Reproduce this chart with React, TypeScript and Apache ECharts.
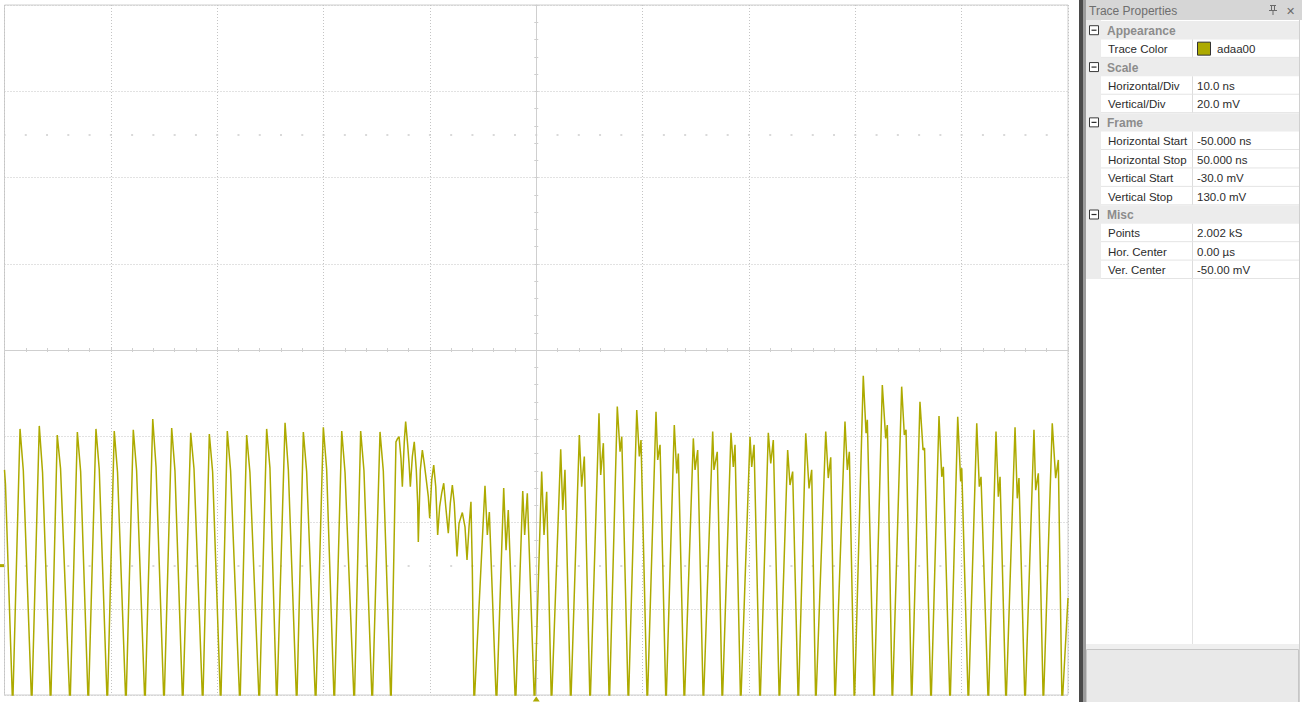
import React, { useEffect, useRef } from "react";
import * as echarts from "echarts";

// ---- Axis / frame settings (from Trace Properties) ----
const timeStartNs = -50;
const timeStopNs = 50;
const nsPerDiv = 10;
const voltStartMv = -30;
const voltStopMv = 130;
const mvPerDiv = 20;
const traceColor = "#adaa00";
// faint dotted reference rows seen in the display (mV)
const referenceLevelsMv = [0, 100];

// ---- Waveform samples [time ns, voltage mV] ----
// Regular oscillation: peak, shoulder on the falling edge, trough (clipped below the frame)
const segmentRegular: [number, number][] = [
  [-50.0, 22.2], [-49.91, 18.9], [-49.23, -33],
  [-48.54, 31.7], [-48.23, 22.0], [-47.44, -33],
  [-46.73, 32.4], [-46.42, 21.5], [-45.66, -33],
  [-45.04, 30.3], [-44.73, 22.5], [-43.84, -33],
  [-43.15, 31.0], [-42.84, 21.8], [-42.12, -33],
  [-41.4, 31.7], [-41.09, 22.3], [-40.33, -33],
  [-39.68, 31.2], [-39.37, 21.6], [-38.58, -33],
  [-37.89, 31.5], [-37.58, 22.1], [-36.79, -33],
  [-36.06, 34.0], [-35.75, 22.8], [-35.0, -33],
  [-34.28, 31.9], [-33.97, 21.9], [-33.24, -33],
  [-32.49, 30.8], [-32.18, 22.4], [-31.36, -33],
  [-30.74, 30.5], [-30.43, 21.7], [-29.67, -33],
  [-29.05, 31.2], [-28.74, 22.0], [-27.86, -33],
  [-27.23, 30.3], [-26.92, 21.5], [-26.04, -33],
  [-25.35, 31.7], [-25.04, 22.6], [-24.4, -33],
  [-23.62, 33.1], [-23.31, 22.2], [-22.52, -33],
  [-21.9, 31.0], [-21.59, 21.8], [-20.74, -33],
  [-20.02, 32.1], [-19.71, 22.4], [-18.99, -33],
  [-18.29, 31.2], [-17.98, 21.6], [-17.11, -33],
  [-16.51, 31.2], [-16.2, 22.0], [-15.42, -33],
  [-14.69, 31.0], [-14.38, 21.9], [-13.66, -33],
];

// Noisy transition where the signal stops reaching the bottom
const segmentTransition: [number, number][] = [
  [-13.19, 28.7], [-13.03, 29.5], [-12.9, 29.9], [-12.72, 24.9], [-12.59, 18.3],
  [-12.41, 28.7], [-12.28, 33.4], [-12.09, 28.0], [-11.96, 23.7], [-11.84, 18.3],
  [-11.65, 25.3], [-11.47, 28.7], [-11.28, 22.2], [-11.15, 14.5], [-11.09, 5.5],
  [-10.9, 22.2], [-10.71, 26.8], [-10.53, 23.7], [-10.34, 19.9], [-10.15, 16.0],
  [-10.02, 11.0], [-9.83, 19.9], [-9.64, 23.3], [-9.45, 18.3], [-9.27, 7.1],
  [-9.08, 13.7], [-8.89, 16.8], [-8.7, 19.1], [-8.51, 13.7], [-8.27, 7.5],
  [-8.08, 14.5], [-7.89, 18.7], [-7.71, 14.5], [-7.45, 2.1], [-7.26, 9.8],
  [-6.95, 12.3], [-6.7, 9.0], [-6.51, 1.3], [-6.32, 9.0], [-6.14, 14.8],
  [-6.01, -1.0], [-5.85, -33],
];

// Oscillation with double peaks (main peak, notch, bump, trough)
const segmentDoublePeak: [number, number][] = [
  [-4.82, 18.5], [-4.6, 7.1], [-4.41, 12.4], [-3.74, -33],
  [-3.06, 18.0], [-2.84, 3.6], [-2.63, 12.9], [-1.95, -33],
  [-1.27, 17.3], [-1.09, 7.1], [-0.84, 16.8], [-0.16, -33],
  [0.51, 21.8], [0.73, 7.1], [0.98, 17.1], [1.43, -33],
  [2.3, 27.0], [2.49, 12.9], [2.7, 22.2], [3.24, -33],
  [4.05, 30.3], [4.27, 18.3], [4.52, 25.3], [5.06, -33],
  [5.9, 35.3], [6.06, 21.0], [6.31, 28.4], [6.87, -33],
  [7.62, 36.9], [7.88, 26.4], [8.04, 29.9], [8.66, -33],
  [9.45, 36.1], [9.69, 25.3], [9.85, 29.1], [10.44, -33],
  [11.26, 35.7], [11.42, 24.5], [11.64, 28.0], [12.2, -33],
  [12.98, 32.6], [13.21, 21.4], [13.36, 26.0], [13.92, -33],
  [14.77, 29.5], [14.93, 22.2], [15.18, 26.8], [15.71, -33],
  [16.59, 31.1], [16.71, 22.2], [17.02, 26.4], [17.49, -33],
  [18.31, 30.8], [18.53, 22.9], [18.69, 28.0], [19.22, -33],
  [20.1, 29.9], [20.26, 22.9], [20.48, 28.0], [21.04, -33],
  [21.82, 30.8], [22.05, 23.7], [22.29, 29.1], [22.86, -33],
  [23.64, 26.8], [23.86, 18.7], [24.11, 21.8], [24.64, -33],
  [25.34, 30.7], [25.65, 17.9], [25.9, 22.2], [26.28, -33],
  [27.22, 31.1], [27.46, 20.3], [27.69, 25.1], [28.09, -33],
  [29.03, 33.4], [29.25, 22.2], [29.44, 26.4], [29.91, -33],
  [30.75, 44.0], [31.01, 30.7], [31.13, 33.8], [31.76, -33],
  [32.54, 41.9], [32.86, 29.5], [33.01, 32.6], [33.48, -33],
  [34.36, 41.5], [34.61, 30.3], [34.77, 31.5], [35.3, -33],
  [36.08, 38.0], [36.37, 26.8], [36.51, 27.3], [37.12, -33],
  [37.87, 34.7], [38.13, 20.6], [38.28, 22.9], [38.91, -33],
  [39.63, 34.5], [39.91, 19.5], [40.01, 22.6], [40.63, -33],
  [41.42, 33.0], [41.66, 18.3], [41.82, 20.6], [42.51, -33],
  [43.23, 31.1], [43.45, 16.0], [43.61, 20.6], [44.17, -33],
  [45.02, 32.1], [45.23, 15.6], [45.39, 20.3], [45.96, -33],
  [46.8, 31.5], [46.96, 17.5], [47.21, 21.4], [47.68, -33],
  [48.52, 33.0], [48.84, 20.3], [49.09, 24.5], [49.44, -33],
  [50.0, -7.5],
];

// ---- Trace Properties panel content ----
const panelTitle = "Trace Properties";
const appearanceRows: [string, string][] = [["Trace Color", "adaa00"]];
const scaleRows: [string, string][] = [
  ["Horizontal/Div", "10.0 ns"],
  ["Vertical/Div", "20.0 mV"],
];
const frameRows: [string, string][] = [
  ["Horizontal Start", "-50.000 ns"],
  ["Horizontal Stop", "50.000 ns"],
  ["Vertical Start", "-30.0 mV"],
  ["Vertical Stop", "130.0 mV"],
];
const miscRows: [string, string][] = [
  ["Points", "2.002 kS"],
  ["Hor. Center", "0.00 µs"],
  ["Ver. Center", "-50.00 mV"],
];
const panelSections: [string, [string, string][]][] = [
  ["Appearance", appearanceRows],
  ["Scale", scaleRows],
  ["Frame", frameRows],
  ["Misc", miscRows],
];

const FONT = "'Liberation Sans', Arial, sans-serif";

function buildPanel(): any[] {
  const els: any[] = [];
  const px0 = 1086;
  const px1 = 1299;
  const colX = 1192.5;
  const rowH = 18.43;
  let top = 21;

  els.push({ type: "rect", shape: { x: 1079, y: 0, width: 4, height: 702 }, style: { fill: "#4a4a4a" } });
  els.push({ type: "rect", shape: { x: 1083, y: 0, width: 3, height: 702 }, style: { fill: "#9c9c9c" } });
  els.push({ type: "rect", shape: { x: px0, y: 0, width: 216, height: 20 }, style: { fill: "#d6d6d6" } });
  els.push({
    type: "text",
    style: { text: panelTitle, x: 1089, y: 10.5, font: `12px ${FONT}`, fill: "#6e6e6e", verticalAlign: "middle", textVerticalAlign: "middle" },
  });
  els.push({ type: "rect", shape: { x: 1270, y: 5, width: 6, height: 1 }, style: { fill: "#6a6a6a" } });
  els.push({ type: "rect", shape: { x: 1271, y: 6, width: 1, height: 5 }, style: { fill: "#6a6a6a" } });
  els.push({ type: "rect", shape: { x: 1274, y: 6, width: 1, height: 5 }, style: { fill: "#6a6a6a" } });
  els.push({ type: "rect", shape: { x: 1269, y: 10, width: 8, height: 1 }, style: { fill: "#6a6a6a" } });
  els.push({ type: "rect", shape: { x: 1272.5, y: 11, width: 1, height: 4 }, style: { fill: "#6a6a6a" } });
  els.push({
    type: "text",
    style: { text: "✕", x: 1290, y: 10.5, font: `11px ${FONT}`, fill: "#6a6a6a", align: "center", textAlign: "center", verticalAlign: "middle", textVerticalAlign: "middle" },
  });
  const totalRows = panelSections.reduce((a, s) => a + 1 + s[1].length, 0);
  els.push({ type: "rect", shape: { x: px0, y: 20, width: 15, height: 1 + totalRows * rowH }, style: { fill: "#ececec" } });

  panelSections.forEach(([cat, rows]) => {
    const cy = top + rowH / 2;
    els.push({ type: "rect", shape: { x: px0, y: top, width: px1 - px0, height: rowH }, style: { fill: "#ececec" } });
    els.push({ type: "rect", shape: { x: 1089.5, y: cy - 4.5, width: 9, height: 9 }, style: { fill: "#ffffff", stroke: "#3a3a3a", lineWidth: 1 } });
    els.push({ type: "line", shape: { x1: 1091.5, y1: cy, x2: 1096.5, y2: cy }, style: { stroke: "#2a2a2a", lineWidth: 1.2 } });
    els.push({
      type: "text",
      style: { text: cat, x: 1107, y: cy + 0.5, font: `bold 12px ${FONT}`, fill: "#8c8c8c", verticalAlign: "middle", textVerticalAlign: "middle" },
    });
    top += rowH;
    rows.forEach(([name, value]) => {
      const ry = top + rowH / 2;
      els.push({
        type: "text",
        style: { text: name, x: 1108, y: ry + 0.5, font: `11.5px ${FONT}`, fill: "#2b2b2b", verticalAlign: "middle", textVerticalAlign: "middle" },
      });
      let vx = 1197;
      if (name === "Trace Color") {
        els.push({ type: "rect", shape: { x: 1197.5, y: ry - 6.5, width: 13, height: 13 }, style: { fill: traceColor, stroke: "#333333", lineWidth: 1 } });
        vx = 1217;
      }
      els.push({
        type: "text",
        style: { text: value, x: vx, y: ry + 0.5, font: `11.5px ${FONT}`, fill: "#2b2b2b", verticalAlign: "middle", textVerticalAlign: "middle" },
      });
      els.push({ type: "line", shape: { x1: colX, y1: top, x2: colX, y2: top + rowH }, style: { stroke: "#dcdcdc", lineWidth: 1 } });
      els.push({ type: "line", shape: { x1: 1101, y1: top + rowH - 0.5, x2: px1, y2: top + rowH - 0.5 }, style: { stroke: "#e4e4e4", lineWidth: 1 } });
      top += rowH;
    });
  });
  els.push({ type: "line", shape: { x1: colX, y1: top, x2: colX, y2: 645 }, style: { stroke: "#e2e2e2", lineWidth: 1 } });
  els.push({ type: "rect", shape: { x: px0, y: 644, width: px1 - px0, height: 6 }, style: { fill: "#efefef" } });
  els.push({ type: "rect", shape: { x: px0 + 0.5, y: 649.5, width: px1 - px0 - 1, height: 60 }, style: { fill: "#e9e9e9", stroke: "#c6c6c6", lineWidth: 1 } });
  els.push({ type: "line", shape: { x1: 1299.5, y1: 20, x2: 1299.5, y2: 702 }, style: { stroke: "#d0d0d0", lineWidth: 1 } });
  return els;
}

const gridLineStyle = { type: [1, 2] as any, color: "#c4c4c4", width: 1 };
const crossColor = "#cfcfcf";

function buildOption(): any {
  const waveform = [...segmentRegular, ...segmentTransition, ...segmentDoublePeak];
  const divs = (voltStopMv - voltStartMv) / mvPerDiv;
  const halfSpanMv = (voltStopMv - voltStartMv) / 2;
  const hidden = { show: false };
  const minorPx = 1063.5 / ((timeStopNs - timeStartNs) / nsPerDiv) / 5;
  return {
    animation: false,
    backgroundColor: "#ffffff",
    grid: {
      left: 4.5,
      top: 5,
      width: 1063.5,
      height: 690,
      show: true,
      borderColor: "#cfcfcf",
      borderWidth: 1,
      backgroundColor: "#ffffff",
      outerBoundsMode: "none",
      containLabel: false,
    },
    xAxis: [
      {
        type: "value", min: timeStartNs, max: timeStopNs, interval: nsPerDiv,
        axisLine: { show: false, onZero: false }, axisTick: hidden, axisLabel: hidden,
        splitLine: { show: true, lineStyle: gridLineStyle },
      },
      {
        type: "value", min: timeStartNs, max: timeStopNs, interval: nsPerDiv / 5,
        axisLine: { show: true, onZero: true, onZeroAxisIndex: 2, lineStyle: { color: crossColor, width: 1 } },
        axisTick: { show: true, inside: false, length: 2, lineStyle: { color: crossColor } },
        axisLabel: hidden, splitLine: hidden,
      },
      {
        type: "value", min: timeStartNs, max: timeStopNs, interval: nsPerDiv / 5,
        axisLine: { show: false, onZero: true, onZeroAxisIndex: 2 },
        axisTick: { show: true, inside: true, length: 2, lineStyle: { color: crossColor } },
        axisLabel: hidden, splitLine: hidden,
      },
    ],
    yAxis: [
      {
        type: "value", min: voltStartMv, max: voltStopMv,
        axisLine: { show: false, onZero: false }, axisTick: hidden, axisLabel: hidden, splitLine: hidden,
      },
      {
        type: "value", min: 0, max: divs, interval: 1,
        axisLine: { show: false, onZero: false }, axisTick: hidden, axisLabel: hidden,
        splitLine: { show: true, lineStyle: gridLineStyle },
      },
      {
        type: "value", min: -halfSpanMv, max: halfSpanMv, interval: mvPerDiv / 5,
        axisLine: { show: true, onZero: true, onZeroAxisIndex: 1, lineStyle: { color: crossColor, width: 1 } },
        axisTick: { show: true, inside: false, length: 2, lineStyle: { color: crossColor } },
        axisLabel: hidden, splitLine: hidden,
      },
      {
        type: "value", min: -halfSpanMv, max: halfSpanMv, interval: mvPerDiv / 5,
        axisLine: { show: false, onZero: true, onZeroAxisIndex: 1 },
        axisTick: { show: true, inside: true, length: 2, lineStyle: { color: crossColor } },
        axisLabel: hidden, splitLine: hidden,
      },
    ],
    series: [
      {
        type: "line",
        xAxisIndex: 0,
        yAxisIndex: 0,
        data: waveform,
        showSymbol: false,
        symbol: "none",
        clip: true,
        silent: true,
        z: 3,
        lineStyle: { color: traceColor, width: 1.5 },
        markLine: {
          silent: true,
          symbol: "none",
          label: { show: false },
          z: 1,
          lineStyle: { color: "#cdcdcd", width: 1.5, type: [2, minorPx - 2], dashOffset: 1 },
          data: referenceLevelsMv.map((v) => ({ yAxis: v })),
        },
        markPoint: {
          silent: true,
          label: { show: false },
          data: [
            { coord: [timeStartNs, 0], symbol: "rect", symbolSize: [5, 3], symbolOffset: [-3, 0], itemStyle: { color: traceColor } },
            { coord: [0, voltStartMv], symbol: "triangle", symbolSize: [7, 5], symbolOffset: [0, 4], itemStyle: { color: traceColor } },
          ],
        },
      },
    ],
    graphic: { elements: buildPanel() },
  };
}

export default function App() {
  const ref = useRef<HTMLDivElement>(null);
  useEffect(() => {
    if (!ref.current) return;
    const chart = echarts.init(ref.current, null, { renderer: "svg" });
    chart.setOption(buildOption());
    return () => chart.dispose();
  }, []);
  return (
    <div
      ref={ref}
      style={{ position: "fixed", left: 0, top: 0, width: 1302, height: 702, background: "#ffffff" }}
    />
  );
}
